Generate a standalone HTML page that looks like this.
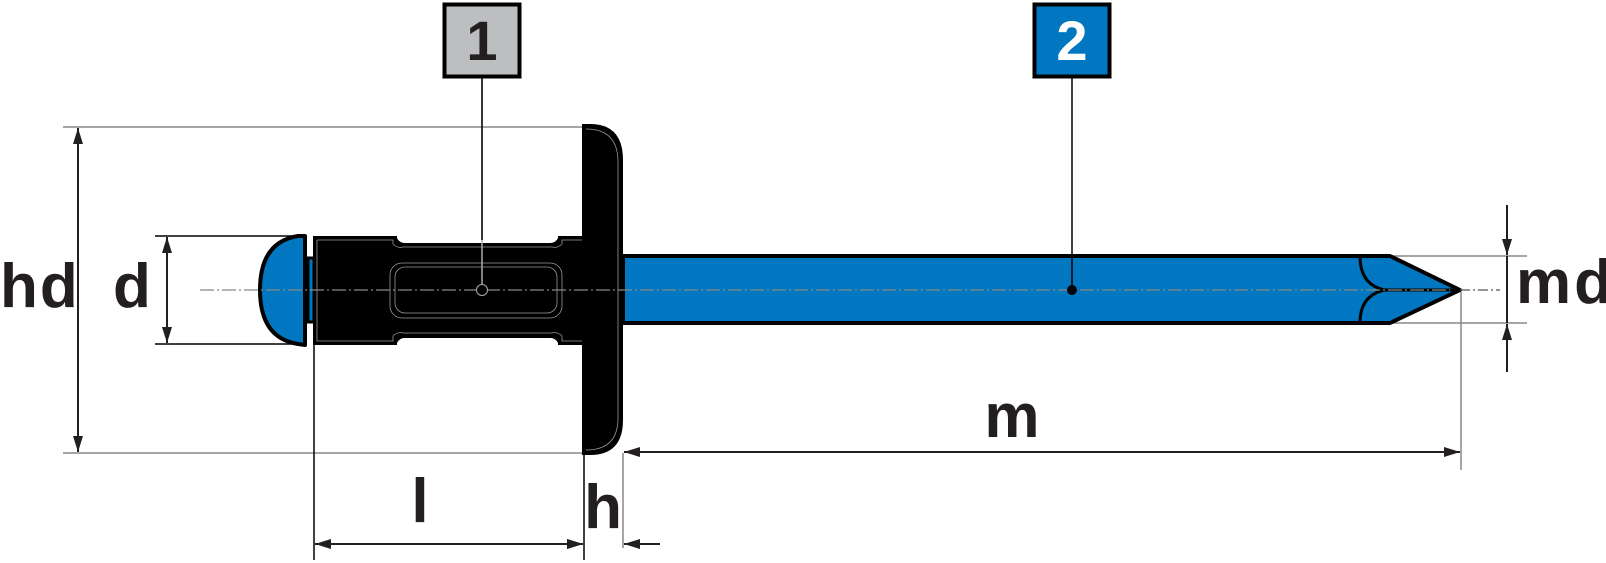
<!DOCTYPE html>
<html><head><meta charset="utf-8"><style>
html,body{margin:0;padding:0;background:#fff;}
svg{display:block;}
text{font-family:"Liberation Sans",sans-serif;font-weight:bold;fill:#231f20;}
</style></head><body>
<svg width="1606" height="563" viewBox="0 0 1606 563" xmlns="http://www.w3.org/2000/svg">
<defs>
<marker id="a" viewBox="0 0 16 10" refX="16" refY="5" markerWidth="16" markerHeight="10" markerUnits="userSpaceOnUse" orient="auto-start-reverse"><path d="M0,0 L16,5 L0,10 z" fill="#231f20"/></marker>
</defs>
<!-- extension lines -->
<g stroke="#888" stroke-width="1.5" fill="none">
<line x1="63" y1="127" x2="585" y2="127"/>
<line x1="63" y1="453" x2="584" y2="453"/>
<line x1="623" y1="453" x2="623" y2="548"/>
<line x1="1461" y1="292" x2="1461" y2="470"/>
<line x1="1390" y1="256" x2="1527" y2="256"/>
<line x1="1390" y1="323" x2="1527" y2="323"/>
</g>
<g stroke="#000" stroke-width="1.5" fill="none">
<line x1="155" y1="236" x2="300" y2="236"/>
<line x1="155" y1="344" x2="300" y2="344"/>
<line x1="314" y1="345" x2="314" y2="560"/>
<line x1="584" y1="453" x2="584" y2="560"/>
</g>
<!-- dimension arrows -->
<g stroke="#231f20" stroke-width="2" fill="none">
<line x1="78" y1="128" x2="78" y2="452" marker-start="url(#a)" marker-end="url(#a)"/>
<line x1="167" y1="237" x2="167" y2="343" marker-start="url(#a)" marker-end="url(#a)"/>
<line x1="315" y1="544" x2="583" y2="544" marker-start="url(#a)" marker-end="url(#a)"/>
<line x1="624" y1="452" x2="1460" y2="452" marker-start="url(#a)" marker-end="url(#a)"/>
<line x1="540" y1="544" x2="583" y2="544" marker-end="url(#a)"/>
<line x1="660" y1="544" x2="624" y2="544" marker-end="url(#a)"/>
<line x1="660" y1="452" x2="624" y2="452"/>
<line x1="1507" y1="205" x2="1507" y2="255" marker-end="url(#a)"/>
<line x1="1507" y1="372" x2="1507" y2="324" marker-end="url(#a)"/>
<line x1="1507" y1="256" x2="1507" y2="323"/>
</g>
<!-- pin -->
<path d="M623,256 L1390,256 L1460,290 L1390,323 L623,323 Z" fill="#0077c0" stroke="#000" stroke-width="4" stroke-linejoin="round"/>
<path d="M1360,256 Q1360,285 1385,290 Q1360,295 1360,323 M1385,290 L1460,290" fill="none" stroke="#000" stroke-width="3"/>
<!-- head dome -->
<path d="M305,236 L298,236 Q260,242 260,290 Q260,338 298,344 L305,345 Z" fill="#0077c0" stroke="#000" stroke-width="4" stroke-linejoin="round"/>
<rect x="308" y="258" width="6" height="64" fill="#0077c0" stroke="#000" stroke-width="3"/>
<!-- body -->
<path d="M313,236 L397,236 L397,238 A8,8 0 0 0 405,243 L550,243 A8,8 0 0 0 558,238 L558,236 L585,236 L585,345 L558,345 L558,343 A8,8 0 0 0 550,338 L405,338 A8,8 0 0 0 397,343 L397,345 L313,345 Z" fill="#000"/>
<path d="M317,240 L393,240 L393,244 A10,10 0 0 0 403,247 L552,247 A10,10 0 0 0 562,244 L562,240 L584,240 M317,240 L317,341 L393,341 L393,336 A10,10 0 0 1 403,333 L552,333 A10,10 0 0 1 562,336 L562,341 L584,341" fill="none" stroke="#999" stroke-width="0.8"/>
<rect x="390" y="263" width="172" height="55" rx="12" fill="none" stroke="#999" stroke-width="0.8"/>
<rect x="395" y="267" width="162" height="46" rx="10" fill="none" stroke="#999" stroke-width="0.8"/>
<!-- flange -->
<path d="M582,124 L590,124 Q623,124 623,160 L623,420 Q623,455 590,455 L582,455 Z" fill="#000"/>
<path d="M586,129 Q618,129 618,162 L618,418 Q618,450 586,450" fill="none" stroke="#999" stroke-width="0.8"/>
<!-- center line -->
<line x1="200" y1="290" x2="1450" y2="290" stroke="#888" stroke-width="1.2" stroke-dasharray="14,3,2,3"/>
<line x1="1460" y1="290" x2="1500" y2="290" stroke="#555" stroke-width="1.2" stroke-dasharray="10,3,2,3"/>
<!-- leaders -->
<line x1="482" y1="78" x2="482" y2="284" stroke="#aaa" stroke-width="1.5"/>
<line x1="482" y1="78" x2="482" y2="240" stroke="#000" stroke-width="1.5"/>
<circle cx="482" cy="290" r="5.5" fill="#000" stroke="#aaa" stroke-width="1"/>
<line x1="1072" y1="78" x2="1072" y2="290" stroke="#000" stroke-width="1.5"/>
<circle cx="1072" cy="290" r="5" fill="#000"/>
<!-- boxes -->
<rect x="444.5" y="4.5" width="75" height="72" fill="#bcbec0" stroke="#000" stroke-width="4"/>
<text x="482" y="60" font-size="56" text-anchor="middle">1</text>
<rect x="1034.5" y="4.5" width="75" height="72" fill="#0077c0" stroke="#000" stroke-width="4"/>
<text x="1072" y="60" font-size="56" text-anchor="middle" style="fill:#fff">2</text>
<!-- labels -->
<text x="0" y="307" font-size="62" letter-spacing="2">hd</text>
<text x="113" y="307" font-size="62">d</text>
<text x="420" y="522" font-size="62" text-anchor="middle">l</text>
<text x="603" y="528" font-size="62" text-anchor="middle">h</text>
<text x="1012" y="437" font-size="62" text-anchor="middle">m</text>
<text x="1516" y="303" font-size="62" letter-spacing="3">md</text>
</svg>
</body></html>
